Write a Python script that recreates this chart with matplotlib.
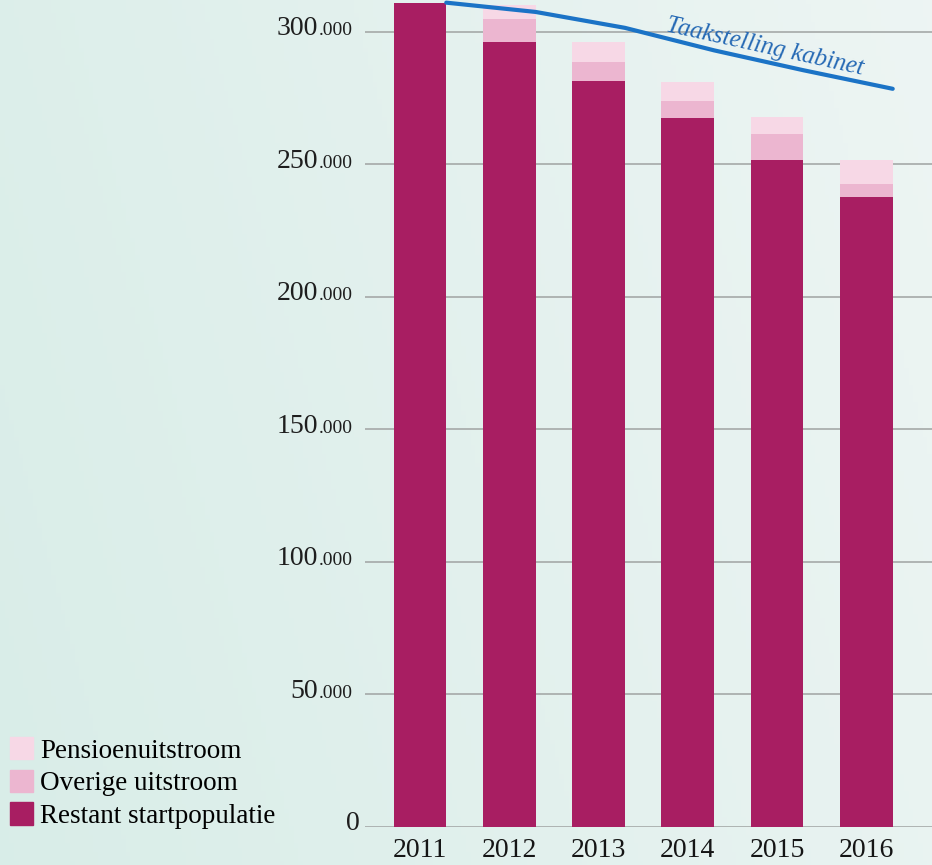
import numpy as np
import matplotlib.pyplot as plt
from matplotlib.patches import Patch

years = ["2011", "2012", "2013", "2014", "2015", "2016"]
restant = [311000, 296000, 281500, 267500, 251500, 237500]
overige = [0, 9000, 7000, 6500, 10000, 5000]
pensioen = [0, 5000, 7500, 7000, 6500, 9000]
taakstelling = [311000, 307500, 301500, 293000, 285500, 278500]
yticks = [0, 50000, 100000, 150000, 200000, 250000, 300000]

c_restant = "#a81e62"
c_overige = "#ecb6d0"
c_pensioen = "#f7d8e6"
c_line = "#1b73c6"

plt.rcParams["font.family"] = ["Liberation Serif", "DejaVu Serif"]

fig = plt.figure(figsize=(9.32, 8.65), dpi=100)

# achtergrond: lichte mintgroene gradient
bg = fig.add_axes([0, 0, 1, 1])
gx, gy = np.meshgrid(np.linspace(0, 1, 200), np.linspace(0, 1, 200))
left = np.array([0.85, 0.93, 0.91])
right = np.array([0.93, 0.96, 0.955])
t = np.clip(gx * 0.8 + gy * 0.2, 0, 1)[..., None]
img = left * (1 - t) + right * t
bg.imshow(img, extent=[0, 1, 0, 1], aspect="auto", origin="lower")
bg.axis("off")

ax = fig.add_axes([365 / 932, 1 - 827 / 865, 567 / 932, 827 / 865])
ax.patch.set_alpha(0)
x = np.arange(len(years))
w = 0.59

ax.bar(x, restant, w, color=c_restant, zorder=3)
ax.bar(x, overige, w, bottom=restant, color=c_overige, zorder=3)
bot = np.array(restant) + np.array(overige)
ax.bar(x, pensioen, w, bottom=bot, color=c_pensioen, zorder=3)

xl = x + w / 2
ax.plot(xl, taakstelling, color=c_line, lw=3, zorder=4, solid_capstyle="round")
ax.text(3.86, 294200, "Taakstelling kabinet", color="#2468b4", fontsize=18,
        style="italic", rotation=-12.5, ha="center", va="center", zorder=5)

ax.set_xlim(-0.615, 5.735)
ax.set_ylim(0, 312000)

ytr = ax.get_yaxis_transform()
for v in yticks:
    ax.plot([0, 1], [v, v], transform=ytr, color="#a5a9a8", lw=1.2, zorder=1)
    if v == 0:
        ax.text(-0.01, v - 1200, "0", transform=ytr, ha="right", va="baseline",
                fontsize=20, color="#1e1e1e")
    else:
        ax.text(-0.083, v - 1200, "%d" % (v // 1000), transform=ytr,
                ha="right", va="baseline", fontsize=20, color="#1e1e1e")
        ax.text(-0.082, v - 1200, ".000", transform=ytr,
                ha="left", va="baseline", fontsize=14, color="#1e1e1e")

ax.set_xticks(x)
ax.set_xticklabels(years, fontsize=20, color="#151515")
ax.tick_params(axis="x", length=0, pad=8)
ax.set_yticks([])
for s in ax.spines.values():
    s.set_visible(False)

handles = [Patch(color=c_pensioen, label="Pensioenuitstroom"),
           Patch(color=c_overige, label="Overige uitstroom"),
           Patch(color=c_restant, label="Restant startpopulatie")]
fig.legend(handles=handles, loc="lower left", bbox_to_anchor=(0.011, 0.042),
           frameon=False, fontsize=19.5, handlelength=0.85, handleheight=0.9,
           handletextpad=0.25, labelspacing=0.22, borderaxespad=0, borderpad=0)

fig.savefig("out.png", dpi=100)
